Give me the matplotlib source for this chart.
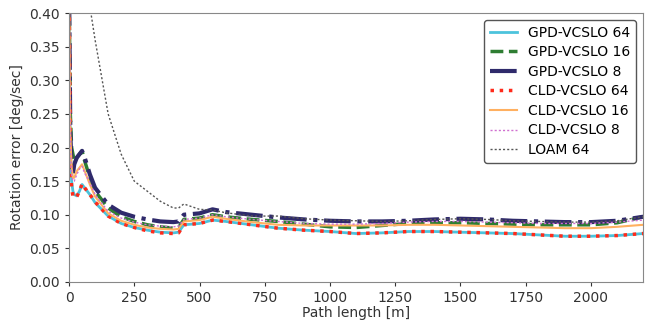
import matplotlib
matplotlib.use("Agg")
import matplotlib.pyplot as plt

path_length = [0, 5, 10, 15, 20, 30, 40, 50, 60, 80, 100, 150, 200, 250, 300, 350, 400, 420,
               440, 500, 550, 600, 700, 800, 900, 1000, 1100, 1200, 1300, 1400, 1500, 1600,
               1700, 1800, 1900, 2000, 2100, 2200]

gpd_64 = [0.45, 0.20, 0.15, 0.135, 0.13, 0.128, 0.135, 0.145, 0.14, 0.13, 0.118, 0.098, 0.087,
          0.081, 0.077, 0.074, 0.073, 0.074, 0.085, 0.087, 0.092, 0.090, 0.085, 0.080, 0.077,
          0.075, 0.072, 0.073, 0.075, 0.075, 0.074, 0.073, 0.072, 0.070, 0.068, 0.068, 0.069, 0.072]
gpd_16 = [0.45, 0.25, 0.20, 0.19, 0.18, 0.185, 0.19, 0.195, 0.18, 0.155, 0.135, 0.11, 0.097,
          0.090, 0.085, 0.082, 0.080, 0.081, 0.093, 0.095, 0.100, 0.097, 0.093, 0.090, 0.086,
          0.082, 0.081, 0.084, 0.087, 0.088, 0.088, 0.087, 0.086, 0.085, 0.085, 0.085, 0.088, 0.097]
gpd_8 = [0.45, 0.22, 0.17, 0.16, 0.175, 0.185, 0.19, 0.195, 0.185, 0.16, 0.14, 0.115, 0.103,
         0.097, 0.093, 0.090, 0.089, 0.090, 0.100, 0.102, 0.108, 0.104, 0.100, 0.096, 0.093,
         0.091, 0.090, 0.090, 0.091, 0.093, 0.094, 0.093, 0.091, 0.090, 0.089, 0.089, 0.091, 0.097]
cld_64 = [0.45, 0.19, 0.14, 0.128, 0.125, 0.127, 0.135, 0.146, 0.14, 0.13, 0.119, 0.098, 0.087,
          0.081, 0.076, 0.073, 0.072, 0.073, 0.085, 0.087, 0.092, 0.090, 0.085, 0.080, 0.077,
          0.075, 0.072, 0.073, 0.075, 0.075, 0.074, 0.073, 0.072, 0.070, 0.068, 0.068, 0.069, 0.072]
cld_16 = [0.45, 0.22, 0.17, 0.155, 0.155, 0.165, 0.17, 0.175, 0.165, 0.145, 0.127, 0.102, 0.091,
          0.085, 0.081, 0.079, 0.078, 0.079, 0.090, 0.092, 0.097, 0.094, 0.089, 0.085, 0.084,
          0.084, 0.084, 0.084, 0.085, 0.085, 0.084, 0.083, 0.082, 0.081, 0.080, 0.080, 0.082, 0.085]
cld_8 = [0.45, 0.20, 0.16, 0.15, 0.15, 0.16, 0.168, 0.172, 0.162, 0.148, 0.13, 0.105, 0.095,
         0.089, 0.085, 0.083, 0.082, 0.083, 0.093, 0.095, 0.100, 0.097, 0.093, 0.090, 0.087,
         0.086, 0.086, 0.087, 0.089, 0.090, 0.090, 0.089, 0.088, 0.087, 0.087, 0.087, 0.089, 0.092]
loam_64 = [1.5, 1.2, 1.0, 0.9, 0.8, 0.7, 0.6, 0.55, 0.5, 0.41, 0.36, 0.25, 0.19, 0.15, 0.135,
           0.12, 0.11, 0.11, 0.116, 0.108, 0.107, 0.103, 0.098, 0.098, 0.094, 0.092, 0.091, 0.090,
           0.091, 0.093, 0.094, 0.093, 0.091, 0.090, 0.089, 0.089, 0.091, 0.097]

fig = plt.figure(figsize=(6.51, 3.2), dpi=100)
ax = fig.add_axes([0.106, 0.119, 0.882, 0.840])

ax.plot(path_length, gpd_64, color="#4cc3dc", lw=2.0, ls="-", label="GPD-VCSLO 64")
ax.plot(path_length, gpd_16, color="#2e7d32", lw=2.5, ls="--", label="GPD-VCSLO 16")
ax.plot(path_length, gpd_8, color="#2f2a6b", lw=3.0, ls="-.", label="GPD-VCSLO 8")
ax.plot(path_length, cld_64, color="#ff2a1a", lw=2.5, ls=":", label="CLD-VCSLO 64")
ax.plot(path_length, cld_16, color="#ffb060", lw=1.5, ls="-", label="CLD-VCSLO 16")
ax.plot(path_length, cld_8, color="#d070d0", lw=1.0, ls=(0, (1.5, 1.5)), label="CLD-VCSLO 8")
ax.plot(path_length, loam_64, color="#555555", lw=1.0, ls=(0, (1.5, 1.5)), label="LOAM 64")

ax.set_xlim(0, 2200)
ax.set_ylim(0, 0.4)
ax.set_yticks([0.0, 0.05, 0.10, 0.15, 0.20, 0.25, 0.30, 0.35, 0.40])
ax.set_yticklabels([f"{v:.2f}" for v in ax.get_yticks()])
ax.set_xticks([0, 250, 500, 750, 1000, 1250, 1500, 1750, 2000])
ax.set_xlabel("Path length [m]", fontsize=10, color="#333333", labelpad=1)
ax.set_ylabel("Rotation error [deg/sec]", fontsize=10, color="#333333")
ax.tick_params(labelsize=10, colors="#333333", length=3)
for s in ax.spines.values():
    s.set_color("#888888")

leg = ax.legend(loc="upper right", fontsize=10, frameon=True, fancybox=True,
                borderaxespad=0.5, labelspacing=0.4)
leg.get_frame().set_edgecolor("#555555")
leg.get_frame().set_alpha(1)

fig.savefig("out.png", dpi=100)
